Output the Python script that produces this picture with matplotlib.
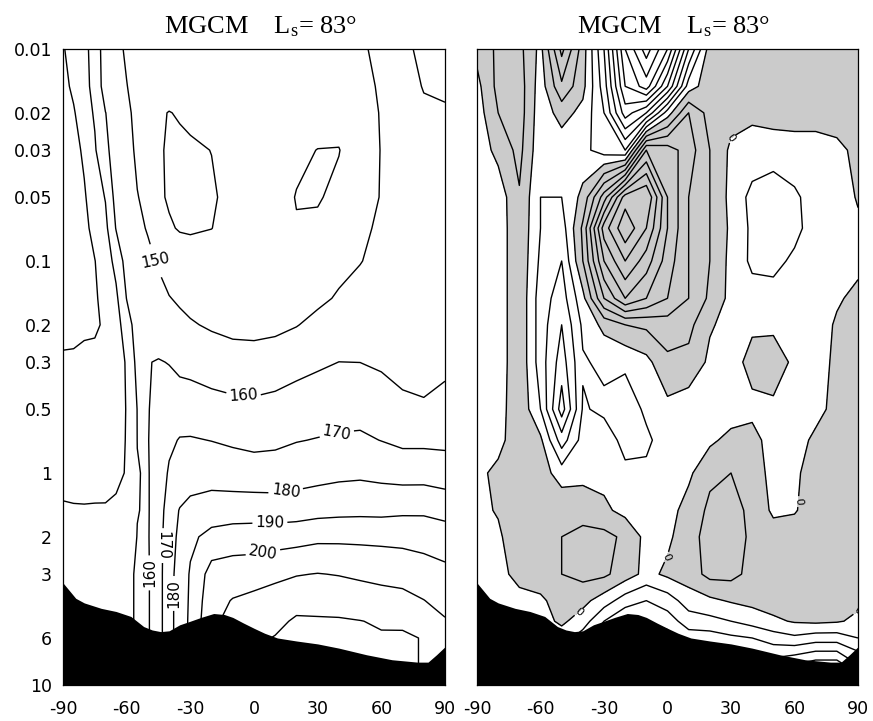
import numpy as np
import matplotlib
matplotlib.use("Agg")
import matplotlib.pyplot as plt

plt.rcParams['axes.unicode_minus'] = False
plt.rcParams['mathtext.fontset'] = 'custom'
plt.rcParams['mathtext.rm'] = 'Liberation Serif'
plt.rcParams['mathtext.it'] = 'Liberation Serif:italic'

# ---------------------------------------------------------------- data
pressure = [0.01, 0.015, 0.02, 0.03, 0.05, 0.07, 0.1, 0.15, 0.2, 0.3,
            0.5, 0.7, 1, 1.5, 2, 3, 4, 5, 6, 8, 10]

# zonal-mean temperature (K), rows follow `pressure`
lat_temp = [-90, -85, -80, -75, -70, -65, -60, -55, -50, -45, -40, -35, -30,
            -20, -10, 0, 10, 20, 30, 40, 50, 60, 70, 80, 90]
temp_rows = [
    [181, 175, 172, 167, 154, 152, 149, 147, 146, 145.5, 145, 145, 145, 145, 145, 145, 145, 145, 145, 146, 148.5, 152.5, 158, 162, 164],
    [183, 178, 172.5, 167.5, 155, 153, 150.2, 147.5, 145, 144, 143, 142.5, 142.5, 143, 144, 144.5, 144.5, 144, 144, 145, 147.5, 151, 156, 160.5, 161.5],
    [184, 181, 174, 169, 160.2, 155, 151.5, 148, 143.5, 140.8, 139.8, 140.5, 141.5, 142.5, 143, 143.5, 143.5, 143, 142.5, 143.5, 146.5, 150.5, 155, 158.5, 159],
    [185.5, 183, 178.5, 171, 162, 156, 153, 148.5, 145, 141, 139, 138.8, 139, 140.1, 142, 142.5, 142, 141, 139.9, 139.7, 145.5, 150.3, 154, 156, 156.5],
    [186.5, 185, 181, 175, 169.5, 156.5, 151.5, 150.3, 148, 141.5, 139, 138, 137.5, 139.2, 142, 143.5, 142, 139.8, 139.3, 142, 147.5, 150.3, 153, 154.5, 155],
    [187, 186, 182.5, 177, 172.5, 159.5, 154, 151.5, 149.5, 146, 141, 139.3, 139, 139.9, 142.5, 144, 143, 140.3, 141.5, 144.5, 148, 151.6, 153, 154, 154.5],
    [187.5, 187, 184, 180.2, 175, 167, 156, 153, 151.5, 149.3, 146.5, 145, 144, 143.5, 144, 145, 145, 144.5, 145, 147.5, 149.6, 153, 154, 154.5, 155],
    [188, 187.5, 185, 181.5, 176, 172, 159.7, 155, 153.5, 152, 150.3, 149, 147.5, 146.5, 146, 146, 146, 146.5, 148.2, 150.9, 153.6, 155, 155.5, 156, 156],
    [188.5, 188, 184, 183, 177, 174, 165, 155, 155, 155, 153.3, 151.8, 150.8, 148.9, 147.5, 147.2, 147.8, 149.6, 152.5, 154.7, 156.3, 157, 157.5, 158, 158],
    [176, 175.5, 174.5, 174.5, 174, 172.5, 169.5, 157, 159.7, 160.5, 159.7, 157.5, 157, 155.2, 154, 153.8, 154.8, 156.8, 158.6, 160.05, 159.95, 158.8, 158, 158.5, 158.5],
    [174.5, 174.3, 174, 173.6, 173, 172, 169.8, 159.8, 159.6, 162.5, 164.5, 165.5, 165, 163.7, 162.7, 162.3, 163.2, 164.8, 165.7, 166.7, 166.8, 164.6, 161.4, 160.5, 162.2],
    [174, 174, 173.5, 173, 172.3, 171.3, 169.8, 159.9, 159.5, 166, 168.3, 170.5, 170.7, 169.8, 168.5, 167.5, 168.1, 169.6, 170.4, 171.1, 171.5, 169.8, 167.9, 167.9, 167.8],
    [173.5, 173.5, 173, 172.5, 172, 171, 169.7, 160.3, 159.3, 165, 171, 173.5, 176, 176, 175.2, 174.3, 174.4, 175.6, 176.6, 177.7, 178.2, 177.2, 176.1, 176.1, 174.8],
    [168.8, 169.2, 169.4, 169.4, 169.5, 169.2, 166, 160.2, 159.3, 165, 175, 180.5, 182.5, 184.6, 184.9, 185.3, 184.9, 185.3, 186.6, 187.3, 187.6, 187.4, 188.2, 188.4, 186.8],
    [167.5, 168, 168.3, 168.5, 168.5, 167.5, 164.5, 159.8, 159.3, 166, 176, 182, 188, 193, 194.9, 195, 195.4, 196.3, 197.7, 197.8, 197.7, 197.5, 197.1, 196.1, 194.6],
    [167, 167.3, 167.5, 167.5, 167.5, 166, 161, 159.5, 159, 166, 177, 183.5, 191, 204, 205, 205.7, 208, 209.5, 210.3, 209.6, 208.4, 207.3, 206.5, 204.8, 202.6],
    [167, 167, 167, 167, 167, 165.5, 161, 159.5, 159, 166, 177, 184, 191.5, 206.5, 210.5, 212.5, 213.8, 216.3, 216.3, 216, 215, 213.8, 212.9, 210.2, 207.1],
    [167, 167, 167, 167, 167, 165.5, 161, 159.5, 159, 166, 177, 184, 192, 208, 213, 216, 217.5, 221.4, 221.1, 220.9, 220.2, 219.1, 218.2, 214.9, 210.7],
    [167, 167, 167, 167, 167, 165.5, 161, 159.5, 159, 166, 177, 184, 192, 209, 214.5, 218, 220.5, 223, 223, 222.5, 221.5, 220.8, 221.5, 219.5, 213],
    [167, 167, 167, 167, 167, 165.5, 161, 159.5, 159, 166, 177, 184, 192, 210, 216, 219, 222, 224, 224, 223.5, 222.5, 221.5, 221.5, 219.5, 214],
    [167, 167, 167, 167, 167, 165.5, 161, 159.5, 159, 166, 177, 184, 192, 211, 217, 220, 223, 225, 225, 224, 223, 222, 221.5, 219.5, 214],
]
temp_levels = [140, 150, 160, 170, 180, 190, 200, 210, 220]

# deviation field, rows follow `pressure`; positive values are shaded
lat_dev = [-90, -80, -70, -60, -50, -40, -30, -20, -10, 0, 10, 20, 30, 40, 50, 60, 70, 80, 90]
dev_rows = [
    [0.3, 1.2, 1.3, -0.3, 3.3, 0.5, -3.0, -8.0, -10.5, -8.0, -3.0, 0.5, 0.9, 0.7, 0.8, 0.6, 0.5, 0.5, 0.3],
    [-0.3, 1.3, 1.5, -0.5, 1.8, 0.3, -2.5, -7.0, -8.5, -5.0, -0.5, 0.6, 0.8, 0.7, 0.7, 0.6, 0.5, 0.4, 0.3],
    [-0.5, 1.0, 1.5, -0.6, 0.4, -0.3, -2.0, -5.5, -4.0, -0.5, 2.0, 0.6, 0.4, 0.2, 0.4, 0.3, 0.1, 0.2, 0.2],
    [-0.6, 0.3, 1.3, -0.7, -0.6, -0.7, -1.5, -2.0, 4.0, 3.5, 2.5, 1.0, -0.2, -0.4, -0.5, -0.3, -0.1, -0.1, 0.1],
    [-0.6, -0.6, 0.9, -1.0, -1.0, 0.3, 3.5, 7.5, 8.0, 4.0, 2.0, 1.0, -0.3, -1.3, -1.6, -1.2, -0.5, -0.3, 0.05],
    [-0.6, -0.6, 0.8, -1.0, -1.5, 1.2, 6.5, 8.8, 7.0, 4.0, 2.0, 1.0, -0.2, -1.2, -1.5, -1.3, -0.5, -0.4, -0.1],
    [-0.6, -0.6, 0.8, -1.2, -2.0, 1.0, 5.0, 7.0, 5.5, 3.5, 2.0, 1.0, -0.3, -1.2, -1.3, -0.8, -0.5, -0.4, -0.2],
    [-0.5, -0.6, 0.8, -1.5, -2.5, -0.3, 3.0, 5.0, 4.0, 3.0, 2.0, 0.8, -0.3, -0.6, -0.6, -0.5, -0.4, -0.1, 0.2],
    [-0.5, -0.6, 0.8, -1.5, -3.0, -0.8, 0.3, 1.0, 1.2, 1.5, 1.3, 0.1, -0.3, -0.2, -0.2, -0.3, -0.4, 0.1, 0.3],
    [-0.4, -0.6, 0.8, -1.5, -3.5, -1.1, -0.8, -0.8, -0.3, 0.8, 0.7, -0.2, -0.5, 0.4, 0.5, -0.2, -0.4, 0.2, 0.4],
    [-0.3, -0.5, 0.8, -1.0, -4.5, -0.9, -1.2, -1.6, -0.8, -0.3, -0.6, -0.8, -0.5, -0.3, -0.2, -0.3, -0.3, 0.3, 0.4],
    [-0.1, -0.4, 0.8, 0.2, -2.5, -0.6, -0.5, -1.3, -1.2, -0.5, -0.4, -0.2, 0.3, 0.4, -0.5, -0.4, 0.2, 0.4, 0.4],
    [-0.3, 0.3, 0.8, 0.5, -0.5, -0.3, -0.3, -0.8, -0.8, -0.3, -0.2, 0.8, 1.0, 0.8, -0.5, -0.2, 0.5, 0.6, 0.5],
    [-0.3, 0.1, 0.8, 0.8, 0.8, 0.6, 0.2, -0.3, -0.8, -0.4, 0.4, 1.2, 1.3, 0.8, -0.2, -0.1, 0.6, 0.7, 0.5],
    [-0.4, -0.2, 0.8, 0.9, 1.0, 1.3, 1.3, 0.8, -0.3, -0.2, 0.6, 1.4, 1.5, 0.8, 0.5, 0.6, 0.7, 0.6, 0.5],
    [-0.5, -0.3, 0.3, 0.6, 1.0, 1.3, 1.2, 0.5, -0.3, 0.2, 0.5, 1.3, 1.3, 0.7, 0.9, 0.6, 0.6, 0.5, 0.4],
    [-0.5, -0.4, -0.3, -0.2, 0.5, 0.3, -0.5, -1.5, -2.0, -1.5, -0.5, -0.2, 0.1, 0.3, 0.5, 0.5, 0.4, 0.3, 0.2],
    [-0.5, -0.5, -0.4, -0.4, 0.2, -0.5, -2.0, -3.0, -3.0, -2.5, -1.5, -1.3, -1.0, -0.6, -0.2, 0.1, 0.2, 0.1, -0.2],
    [-0.5, -0.5, -0.5, -0.5, -0.5, -1.5, -3.0, -4.0, -4.0, -3.5, -2.5, -2.5, -2.2, -2.0, -1.5, -1.2, -1.5, -1.5, -1.0],
    [-1.0, -1.0, -1.0, -1.0, -1.5, -2.5, -4.0, -5.0, -5.0, -4.5, -3.5, -3.5, -3.5, -3.5, -3.5, -4.0, -4.5, -4.5, -3.0],
    [-1.0, -1.0, -1.0, -1.0, -1.5, -3.0, -4.5, -5.5, -5.5, -5.0, -4.0, -4.0, -4.0, -4.0, -4.0, -4.5, -5.0, -5.0, -3.5],
]
dev_levels = [v for v in range(-11, 10) if v != 0]

# surface pressure along latitude (topography mask)
topo_lat = [-90, -84, -80, -72, -65, -58, -52, -48, -44, -40, -35, -30, -25, -19,
            -14, -10, -5, 0, 5, 11, 20, 30, 40, 53, 65, 77, 82, 86, 90]
topo_ps = [3.3, 3.9, 4.1, 4.35, 4.5, 4.75, 5.3, 5.5, 5.6, 5.55, 5.2, 5.0, 4.8, 4.6,
           4.65, 4.8, 5.1, 5.4, 5.7, 6.0, 6.2, 6.4, 6.7, 7.2, 7.6, 7.8, 7.8, 7.2, 6.6]

pressure_ticks = [0.01, 0.02, 0.03, 0.05, 0.1, 0.2, 0.3, 0.5, 1, 2, 3, 6, 10]
pressure_tick_labels = ['0.01', '0.02', '0.03', '0.05', '0.1', '0.2', '0.3',
                        '0.5', '1', '2', '3', '6', '10']
lat_ticks = [-90, -60, -30, 0, 30, 60, 90]
panel_title = 'MGCM    L$_\\mathrm{s}$= 83°'

# label anchors (lat, pressure) and the text angle used for each
temp_label_pos = [(-46.6, 0.1), (-5, 0.44), (39, 0.65), (15.5, 1.34), (7.5, 1.7),
                  (4.3, 2.4), (-50, 2.96), (-43, 2.2), (-38, 3.7)]
temp_label_rot = [12, None, None, None, None, None, 90, -90, 90]
dev_label_pos = [(0, 2.5), (64, 1.37), (83, 3.6), (-42, 4.5), (24, 0.024)]

# ---------------------------------------------------------------- figure
W, H = 873, 721
fig = plt.figure(figsize=(W / 100, H / 100), dpi=100)
ax1 = fig.add_axes([63 / W, 1 - 685 / H, 382 / W, 636 / H])
ax2 = fig.add_axes([477 / W, 1 - 685 / H, 381 / W, 636 / H])

logp = np.log10(pressure)
temp = np.array(temp_rows)
dev = np.array(dev_rows)

cs1 = ax1.contour(lat_temp, logp, temp, levels=temp_levels, colors='black',
                  linewidths=1.0)
ax1.clabel(cs1, fmt='%d', fontsize=11, inline=True, inline_spacing=3,
           manual=[(x, np.log10(p)) for x, p in temp_label_pos])
for txt, rot in zip(cs1.labelTexts, temp_label_rot):
    if rot is not None:
        txt.set_rotation(rot)

ax2.contourf(lat_dev, logp, dev, levels=[0, 100], colors=['#cbcbcb'])
ax2.contour(lat_dev, logp, dev, levels=dev_levels, colors='black',
            linewidths=1.0, negative_linestyles='solid')
cs0 = ax2.contour(lat_dev, logp, dev, levels=[0], colors='black', linewidths=1.0)
ax2.clabel(cs0, fmt='%d', fontsize=8, inline=True, inline_spacing=2,
           manual=[(x, np.log10(p)) for x, p in dev_label_pos])

for ax in (ax1, ax2):
    ax.fill_between(topo_lat, np.log10(topo_ps), 1.0, color='black', lw=0, zorder=3)
    ax.set_xlim(-90, 90)
    ax.set_ylim(1.0, -2.0)
    ax.set_xticks(lat_ticks)
    ax.set_xticklabels([str(v) for v in lat_ticks])
    ax.tick_params(length=0, labelsize=12.5, pad=8)
    ax.tick_params(axis='x', pad=11)
    for sp in ax.spines.values():
        sp.set_linewidth(0.9)
    t = ax.set_title(panel_title, fontsize=19, family='Liberation Serif', pad=11.5)
    t.set_x(0.516)

ax1.set_yticks(np.log10(pressure_ticks))
ax1.set_yticklabels(pressure_tick_labels)
ax2.set_yticks([])

fig.savefig('out.png', dpi=100)
